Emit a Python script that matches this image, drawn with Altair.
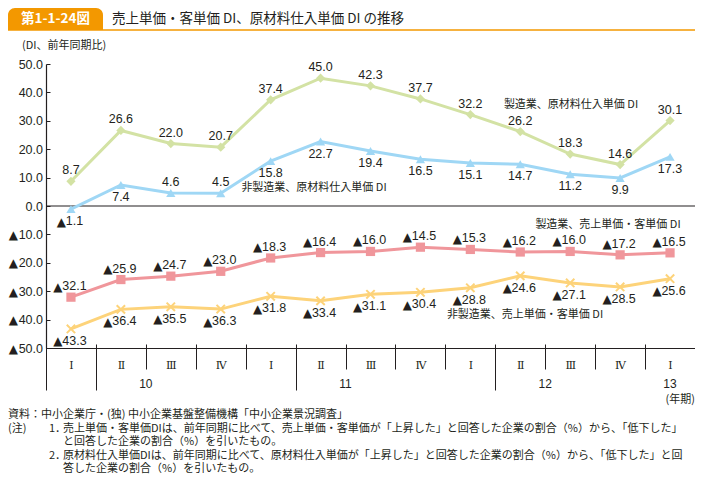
import altair as alt
import pandas as pd

# ---------------- data ----------------
quarters = ["10-Ⅰ", "10-Ⅱ", "10-Ⅲ", "10-Ⅳ", "11-Ⅰ", "11-Ⅱ", "11-Ⅲ", "11-Ⅳ",
            "12-Ⅰ", "12-Ⅱ", "12-Ⅲ", "12-Ⅳ", "13-Ⅰ"]
year_starts = ["10-Ⅰ", "11-Ⅰ", "12-Ⅰ", "13-Ⅰ"]
years = ["10", "11", "12"]
year_mid = ["10-Ⅲ", "11-Ⅲ", "12-Ⅲ"]
last_year = ["13"]
last_year_q = ["13-Ⅰ"]

mfg_raw = [8.7, 26.6, 22.0, 20.7, 37.4, 45.0, 42.3, 37.7, 32.2, 26.2, 18.3, 14.6, 30.1]
nonmfg_raw = [-1.1, 7.4, 4.6, 4.5, 15.8, 22.7, 19.4, 16.5, 15.1, 14.7, 11.2, 9.9, 17.3]
mfg_sales = [-32.1, -25.9, -24.7, -23.0, -18.3, -16.4, -16.0, -14.5, -15.3, -16.2, -16.0, -17.2, -16.5]
nonmfg_sales = [-43.3, -36.4, -35.5, -36.3, -31.8, -33.4, -31.1, -30.4, -28.8, -24.6, -27.1, -28.5, -25.6]

series_names = ["製造業、原材料仕入単価 DI", "非製造業、原材料仕入単価 DI",
                "製造業、売上単価・客単価 DI", "非製造業、売上単価・客単価 DI"]
series_values = [mfg_raw, nonmfg_raw, mfg_sales, nonmfg_sales]

y_ticks = [-50, -40, -30, -20, -10, 0, 10, 20, 30, 40, 50]
NEG_MARK = "▲"

title_tab = "第1-1-24図"
title_text = "売上単価・客単価 DI、原材料仕入単価 DI の推移"
y_unit = "(DI、前年同期比)"
x_unit = "(年期)"
notes = [
    "資料：中小企業庁・(独) 中小企業基盤整備機構「中小企業景況調査」",
    "(注)",
    "1．",
    "売上単価・客単価DIは、前年同期に比べて、売上単価・客単価が「上昇した」と回答した企業の割合（%）から、「低下した」",
    "と回答した企業の割合（%）を引いたもの。",
    "2．",
    "原材料仕入単価DIは、前年同期に比べて、原材料仕入単価が「上昇した」と回答した企業の割合（%）から、「低下した」と回",
    "答した企業の割合（%）を引いたもの。",
]

# ---------------- style ----------------
colors = ["#d3e2a4", "#9fd7f5", "#f0969b", "#fdd37a"]
shapes = ["diamond", "triangle-up", "square", "M-1,-1L1,1M-1,1L1,-1"]
above = [
    [True] * 13,
    [False, False, True, True] + [False] * 9,
    [True] * 13,
    [False] * 13,
]
INK = "#231f20"
ORANGE = "#f39800"
JP = "Noto Sans CJK JP"
NUM = "Liberation Sans"
TRI = "DejaVu Sans"
FS = 12.5          # value label font size
YFS = 12.5         # y label font size
TRI_W = 9.0
W, H = 649, 284
PAD_L, PAD_T = 38, 56


def num_width(s, fs):
    return sum((0.278 if ch == "." else 0.556) for ch in s) * fs


rows = []
for name, vals, ab in zip(series_names, series_values, above):
    for q, v, a in zip(quarters, vals, ab):
        num = f"{abs(v):.1f}"
        rows.append({"series": name, "q": q, "value": v,
                     "num": num, "tri": NEG_MARK, "neg": v < 0, "nlen": len(num),
                     "pos": "above" if a else "below"})
df = pd.DataFrame(rows)

xscale = alt.Scale(type="band", domain=quarters, paddingInner=0, paddingOuter=0)
yscale = alt.Scale(domain=[-50, 50], nice=False, zero=False)
cscale = alt.Scale(domain=series_names, range=colors)

base = alt.Chart(df)

x_main = alt.Axis(orient="bottom", title=None, tickBand="extent", tickSize=21,
                  tickColor=INK, tickWidth=1, domainColor=INK, domainWidth=1.2,
                  labelExpr="split(datum.value, '-')[1]", labelFont="DejaVu Serif",
                  labelFontSize=11, labelColor=INK, labelPadding=-4,
                  labelBaseline="middle", labelAngle=0, grid=False)
y_main = alt.Axis(orient="left", title=None, values=y_ticks, ticks=False,
                  domainColor=INK, domainWidth=1.2, grid=False,
                  labelExpr="format(abs(datum.value), '.1f')",
                  labelFont=NUM, labelFontSize=YFS, labelColor=INK, labelPadding=3.5)
x_up = alt.Axis(orient="bottom", title=None, tickBand="extent", tickSize=4, offset=-4,
                labels=False, domain=False, grid=False, tickColor=INK, tickWidth=1)
y_in = alt.Axis(orient="left", title=None, values=y_ticks, tickSize=4, offset=-4,
                labels=False, domain=False, grid=False, tickColor=INK, tickWidth=1)
x_long = alt.Axis(orient="bottom", title=None, values=year_starts, tickBand="extent",
                  tickSize=42, labels=False, domain=False, grid=False,
                  tickColor=INK, tickWidth=1)

zero = alt.Chart(pd.DataFrame({"zero": [0]})).mark_rule(color=INK, strokeWidth=1.2).encode(
    y=alt.Y("zero:Q", scale=yscale, axis=None))

# triangles in front of negative y-axis labels
ytri_df = pd.DataFrame({"v": [t for t in y_ticks if t < 0], "tri": NEG_MARK})
ytri = alt.Chart(ytri_df).mark_text(
    font=TRI, fontSize=12, color=INK, align="right", baseline="middle",
    dx=-(3.5 + num_width("10.0", YFS) + 0.3), dy=0.5
).encode(x=alt.value(0), y=alt.Y("v:Q", scale=yscale, axis=None), text="tri:N")

lines = base.mark_line(strokeWidth=3).encode(
    x=alt.X("q:N", sort=quarters, scale=xscale, bandPosition=0.5, axis=x_main),
    y=alt.Y("value:Q", scale=yscale, axis=y_main),
    color=alt.Color("series:N", scale=cscale, legend=None),
    detail="series:N",
)

points = base.transform_filter(
    alt.FieldOneOfPredicate(field="series", oneOf=series_names[:3])
).mark_point(filled=True, opacity=1, size=85).encode(
    x=alt.X("q:N", sort=quarters, scale=xscale, bandPosition=0.5, axis=x_up),
    y=alt.Y("value:Q", scale=yscale, axis=y_in),
    color=alt.Color("series:N", scale=cscale, legend=None),
    shape=alt.Shape("series:N", scale=alt.Scale(domain=series_names, range=shapes), legend=None),
)

crosses = base.transform_filter(
    alt.FieldEqualPredicate(field="series", equal=series_names[3])
).mark_point(filled=False, opacity=1, size=70, strokeWidth=2,
             shape=shapes[3], color=colors[3]).encode(
    x=alt.X("q:N", sort=quarters, scale=xscale, bandPosition=0.5, axis=None),
    y=alt.Y("value:Q", scale=yscale, axis=None),
)

XQ = alt.X("q:N", sort=quarters, scale=xscale, bandPosition=0.5, axis=None)
YV = alt.Y("value:Q", scale=yscale, axis=None)

label_layers = []
for pos, dy in (("above", -11), ("below", 12)):
    # positive values: centred
    label_layers.append(
        base.transform_filter((alt.datum.pos == pos) & (alt.datum.neg == False)).mark_text(
            font=NUM, fontSize=FS, color=INK, baseline="middle", align="center", dy=dy
        ).encode(x=XQ, y=YV, text="num:N"))
    # negative values: triangle + number, centred together
    for nlen in (3, 4):
        nw = num_width("0" * (nlen - 2) + ".0", FS)
        start = -(TRI_W + nw) / 2 - 1
        filt = (alt.datum.pos == pos) & (alt.datum.neg == True) & (alt.datum.nlen == nlen)
        label_layers.append(
            base.transform_filter(filt).mark_text(
                font=NUM, fontSize=FS, color=INK, baseline="middle", align="left",
                dy=dy, dx=start + TRI_W
            ).encode(x=XQ, y=YV, text="num:N"))
        label_layers.append(
            base.transform_filter(filt).mark_text(
                font=TRI, fontSize=12, color=INK, baseline="middle", align="right",
                dy=dy + 0.5, dx=start + TRI_W + 0.3
            ).encode(x=XQ, y=YV, text="tri:N"))

# series name annotations (pixel positions in the plot area)
name_pos = [(525, 41), (268, 124), (562, 161), (479, 251)]
name_layers = []
for nm, (px, py) in zip(series_names, name_pos):
    name_layers.append(
        alt.Chart(pd.DataFrame({"t": [nm]})).mark_text(
            font=JP, fontSize=11, color=INK, baseline="middle", align="center"
        ).encode(x=alt.value(px), y=alt.value(py), text="t:N"))

# year labels
year_df = pd.DataFrame({"year": years, "anchor": year_mid})
year_lab = alt.Chart(year_df).mark_text(
    font=NUM, fontSize=12, color=INK, baseline="middle").encode(
    x=alt.X("anchor:N", scale=xscale, bandPosition=0, axis=x_long),
    y=alt.value(H + 36), text="year:N")
year_lab2 = alt.Chart(pd.DataFrame({"year": last_year, "anchor": last_year_q})).mark_text(
    font=NUM, fontSize=12, color=INK, baseline="middle").encode(
    x=alt.X("anchor:N", scale=xscale, bandPosition=0.5, axis=None),
    y=alt.value(H + 36), text="year:N")


def text_at(t, px, py, size=11, align="left", font=JP, color=INK, weight="normal"):
    return alt.Chart(pd.DataFrame({"t": [t]})).mark_text(
        font=font, fontSize=size, color=color, align=align, baseline="middle",
        fontWeight=weight).encode(x=alt.value(px), y=alt.value(py), text="t:N")


# header
tab = alt.Chart(pd.DataFrame({"t": [title_tab]})).mark_rect(
    color=ORANGE, cornerRadiusTopLeft=7, cornerRadiusTopRight=7).encode(
    x=alt.value(-PAD_L), x2=alt.value(57), y=alt.value(-PAD_T), y2=alt.value(-34))
hline = alt.Chart(pd.DataFrame({"t": [title_text]})).mark_rule(
    color=ORANGE, strokeWidth=1.5).encode(
    x=alt.value(-PAD_L), x2=alt.value(W), y=alt.value(-34))
tab_text = text_at(title_tab, 9.5, -45, size=13.5, align="center", color="white", weight="bold")
title_t = text_at(title_text, 66, -45, size=13.5)
yunit_t = text_at(y_unit, -24, -18, size=11)
xunit_t = text_at(x_unit, W, H + 52, size=11, align="right")

note_x = [-PAD_L, -PAD_L, 3, 17, 17, 3, 17, 17]
note_row = [0, 1, 1, 1, 2, 3, 3, 4]
note_layers = [text_at(t, nx, H + 67 + 13.5 * r, size=11)
               for t, nx, r in zip(notes, note_x, note_row)]

chart = alt.layer(
    tab, hline, tab_text, title_t, yunit_t,
    zero, lines, points, crosses, ytri, *label_layers,
    *name_layers, year_lab, year_lab2, xunit_t, *note_layers,
).resolve_axis(x="independent", y="independent").properties(
    width=W, height=H,
    autosize=alt.AutoSizeParams(type="none"),
    padding={"left": PAD_L, "top": PAD_T, "right": 0, "bottom": 128},
    background="white",
).configure_view(stroke=None)

chart.save("out.html", embed_options={"renderer": "svg", "actions": False})
